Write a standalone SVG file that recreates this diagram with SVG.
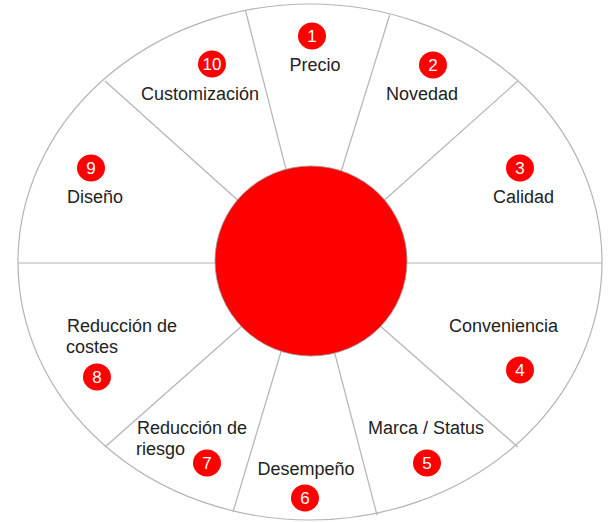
<svg xmlns="http://www.w3.org/2000/svg" width="611" height="522" viewBox="0 0 611 522">
<style>
.sep{stroke:#b4b4b4;stroke-width:1.2;fill:none}
.lbl{font-family:"Liberation Sans",Arial,sans-serif;font-size:18px;fill:#222}
.badge{fill:#ff0000}
.num{font-family:"Liberation Sans",Arial,sans-serif;font-size:17px;fill:#ffffff;text-anchor:middle}
</style>
<rect width="611" height="522" fill="#ffffff"/>
<g id="wheel">
<ellipse cx="310" cy="262" rx="292" ry="258" fill="#ffffff" stroke="#b4b4b4" stroke-width="1.2"/>
</g>
<g id="connectors">
<line class="sep" x1="290" y1="185" x2="245.6" y2="11"/>
<line class="sep" x1="336" y1="188" x2="389.7" y2="15"/>
<line class="sep" x1="370" y1="213" x2="517.8" y2="81"/>
<line class="sep" x1="390" y1="263" x2="602" y2="263"/>
<line class="sep" x1="370" y1="317" x2="517.8" y2="447"/>
<line class="sep" x1="330" y1="335" x2="377" y2="515"/>
<line class="sep" x1="286" y1="335" x2="233" y2="512"/>
<line class="sep" x1="252" y1="317" x2="105" y2="447"/>
<line class="sep" x1="252" y1="213" x2="105" y2="81"/>
<line class="sep" x1="18" y1="263" x2="230" y2="263"/>
</g>
<g id="center">
<ellipse cx="311" cy="261" rx="96" ry="95" fill="#ff0000" stroke="#9a9a9a" stroke-width="0.8"/>
</g>
<g id="n1">
<ellipse class="badge" cx="312" cy="36" rx="14" ry="13.5"/>
<text class="num" x="312" y="42">1</text>
<text class="lbl" x="315" y="71" text-anchor="middle">Precio</text>
</g>
<g id="n2">
<ellipse class="badge" cx="433" cy="65" rx="14" ry="13.5"/>
<text class="num" x="433" y="71">2</text>
<text class="lbl" x="386" y="100">Novedad</text>
</g>
<g id="n3">
<ellipse class="badge" cx="520" cy="168" rx="14" ry="13.5"/>
<text class="num" x="520" y="174">3</text>
<text class="lbl" x="493" y="203">Calidad</text>
</g>
<g id="n4">
<ellipse class="badge" cx="520" cy="370" rx="14" ry="13.5"/>
<text class="num" x="520" y="376">4</text>
<text class="lbl" x="449" y="332">Conveniencia</text>
</g>
<g id="n5">
<ellipse class="badge" cx="427" cy="463" rx="14" ry="13.5"/>
<text class="num" x="427" y="469">5</text>
<text class="lbl" x="368" y="434">Marca / Status</text>
</g>
<g id="n6">
<ellipse class="badge" cx="305" cy="498" rx="14" ry="13.5"/>
<text class="num" x="305" y="504">6</text>
<text class="lbl" x="257.5" y="475">Desempeño</text>
</g>
<g id="n7">
<ellipse class="badge" cx="207" cy="463" rx="14" ry="13.5"/>
<text class="num" x="207" y="469">7</text>
<text class="lbl" x="137" y="434">Reducción de</text>
<text class="lbl" x="136" y="455">riesgo</text>
</g>
<g id="n8">
<ellipse class="badge" cx="97" cy="377" rx="14" ry="13.5"/>
<text class="num" x="97" y="383">8</text>
<text class="lbl" x="67" y="332">Reducción de</text>
<text class="lbl" x="66" y="353">costes</text>
</g>
<g id="n9">
<ellipse class="badge" cx="91" cy="168" rx="14" ry="13.5"/>
<text class="num" x="91" y="174">9</text>
<text class="lbl" x="67" y="203">Diseño</text>
</g>
<g id="n10">
<ellipse class="badge" cx="212" cy="64" rx="14" ry="13.5"/>
<text class="num" x="212" y="70">10</text>
<text class="lbl" x="141" y="100">Customización</text>
</g>
</svg>
